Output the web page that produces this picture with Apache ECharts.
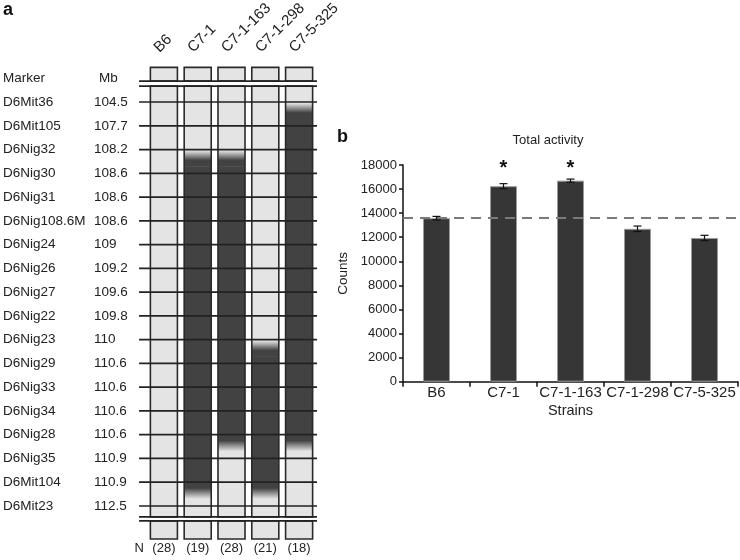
<!DOCTYPE html>
<html>
<head>
<meta charset="utf-8">
<script src="https://cdn.jsdelivr.net/npm/echarts@6/dist/echarts.min.js"></script>
<style>
  html, body { margin: 0; padding: 0; background: #fff; }
  #chart { width: 740px; height: 560px; }
</style>
</head>
<body>
<div id="chart"></div>
<script>
// ---------- Panel a data ----------
const strains = ['B6', 'C7-1', 'C7-1-163', 'C7-1-298', 'C7-5-325'];
const markers = ['D6Mit36', 'D6Mit105', 'D6Nig32', 'D6Nig30', 'D6Nig31', 'D6Nig108.6M', 'D6Nig24',
  'D6Nig26', 'D6Nig27', 'D6Nig22', 'D6Nig23', 'D6Nig29', 'D6Nig33', 'D6Nig34', 'D6Nig28',
  'D6Nig35', 'D6Mit104', 'D6Mit23'];
const markerMb = ['104.5', '107.7', '108.2', '108.6', '108.6', '108.6', '109', '109.2', '109.6',
  '109.8', '110', '110.6', '110.6', '110.6', '110.6', '110.9', '110.9', '112.5'];
// index of last B6-type marker before the donor segment, and last donor marker (null = no donor)
const lastB6Marker = [null, 2, 2, 10, 0];
const lastDonorMarker = [null, 16, 14, 16, 14];
const nMice = [28, 19, 28, 21, 18];

// ---------- Panel b data ----------
const activityMean = [13580, 16240, 16700, 12700, 11940];
const activitySem = [150, 210, 130, 230, 220];
const significant = [false, true, true, false, false];
const countTicks = [0, 18000, 2000]; // min, max, interval

const FONT = "'Liberation Sans', Arial, Helvetica, sans-serif";
const TXT = '#222';
const LIGHT = '#e4e4e4';
const DARK = '#424242';
const LINE = '#222';

// rendering constants (in marker-index units)
const COL_TOP = -0.67, COL_BOT = 17.46;
const DL_TOP = -0.88, DL_BOT = 17.63;
const BOX_TOP = -1.46, BOX_BOT = 18.39;

const chart = echarts.init(document.getElementById('chart'), null, { renderer: 'canvas' });

function renderColumn(params, api) {
  const idx = params.dataIndex;
  const i = api.value(0);
  const bw = api.size([1, 0])[0];
  const hw = bw * 0.4;
  const cx = api.coord([i, 0])[0];
  const Y = v => api.coord([i, v])[1];
  const x0 = cx - hw, w = 2 * hw;
  const ch = [];
  ch.push({ type: 'rect', shape: { x: x0, y: Y(COL_TOP), width: w, height: Y(COL_BOT) - Y(COL_TOP) },
    style: { fill: LIGHT } });
  const t = lastB6Marker[idx], b = lastDonorMarker[idx];
  if (t !== null && b !== null) {
    const g1 = t + 0.05, g2 = t + 0.72, g3 = b, g4 = b + 0.7;
    ch.push({ type: 'rect', shape: { x: x0, y: Y(g1), width: w, height: Y(g2) - Y(g1) },
      style: { fill: new echarts.graphic.LinearGradient(0, 0, 0, 1, [
        { offset: 0, color: LIGHT }, { offset: 0.6, color: DARK }, { offset: 1, color: DARK }]) } });
    ch.push({ type: 'rect', shape: { x: x0, y: Y(g2) - 0.5, width: w, height: Y(g3) - Y(g2) + 1 },
      style: { fill: DARK } });
    ch.push({ type: 'rect', shape: { x: x0, y: Y(g3), width: w, height: Y(g4) - Y(g3) },
      style: { fill: new echarts.graphic.LinearGradient(0, 0, 0, 1, [
        { offset: 0, color: DARK }, { offset: 0.35, color: DARK }, { offset: 1, color: LIGHT }]) } });
  }
  // column border
  ch.push({ type: 'rect', shape: { x: x0, y: Y(COL_TOP), width: w, height: Y(COL_BOT) - Y(COL_TOP) },
    style: { fill: null, stroke: '#2a2a2a', lineWidth: 1.6 } });
  // top box
  ch.push({ type: 'rect', shape: { x: x0, y: Y(BOX_TOP), width: w, height: Y(DL_TOP) - Y(BOX_TOP) },
    style: { fill: LIGHT, stroke: '#2a2a2a', lineWidth: 1.6 } });
  // bottom box
  ch.push({ type: 'rect', shape: { x: x0, y: Y(DL_BOT), width: w, height: Y(BOX_BOT) - Y(DL_BOT) },
    style: { fill: LIGHT, stroke: '#2a2a2a', lineWidth: 1.6 } });
  // rotated strain name above the box
  ch.push({ type: 'text', x: cx - 2, y: Y(BOX_TOP) - 12, rotation: Math.PI / 4,
    style: { text: strains[idx], align: 'left', verticalAlign: 'bottom',
      font: '15px ' + FONT, fill: TXT } });
  return { type: 'group', children: ch };
}

function renderMarkerLine(params, api) {
  const m = api.value(1);
  const bw = api.size([1, 0])[0];
  const xl = api.coord([0, 0])[0] - bw * 0.735;
  const xr = api.coord([strains.length - 1, 0])[0] + bw * 0.53;
  const ys = [m];
  if (params.dataIndex === 0) ys.push(DL_TOP, COL_TOP, COL_BOT, DL_BOT);
  return {
    type: 'group',
    children: ys.map(v => {
      const y = api.coord([0, v])[1];
      return { type: 'line', shape: { x1: xl, y1: y, x2: xr, y2: y },
        style: { stroke: LINE, lineWidth: 1.7 } };
    })
  };
}

function renderErr(params, api) {
  const i = api.value(0);
  const lo = api.coord([i, api.value(1)]);
  const hi = api.coord([i, api.value(2)]);
  const cap = 4;
  const ch = [
    { type: 'line', shape: { x1: hi[0], y1: hi[1], x2: lo[0], y2: lo[1] }, style: { stroke: '#111', lineWidth: 1.2 } },
    { type: 'line', shape: { x1: hi[0] - cap, y1: hi[1], x2: hi[0] + cap, y2: hi[1] }, style: { stroke: '#111', lineWidth: 1.2 } },
    { type: 'line', shape: { x1: lo[0] - cap, y1: lo[1], x2: lo[0] + cap, y2: lo[1] }, style: { stroke: '#111', lineWidth: 1.2 } }
  ];
  if (significant[params.dataIndex]) {
    const p = api.coord([i, countTicks[1]]);
    ch.push({ type: 'text', style: { text: '*', x: p[0], y: p[1] + 3, align: 'center', verticalAlign: 'middle',
      font: 'bold 20px ' + FONT, fill: '#111' } });
  }
  return { type: 'group', children: ch };
}

const option = {
  animation: false,
  backgroundColor: '#fff',
  textStyle: { fontFamily: FONT, color: TXT },
  graphic: [
    { type: 'text', style: { text: 'a', x: 3, y: 1, font: 'bold 18px ' + FONT, fill: '#111' } },
    { type: 'text', style: { text: 'b', x: 337, y: 128, font: 'bold 18px ' + FONT, fill: '#111' } },
    { type: 'text', style: { text: 'Total activity', x: 548, y: 140, align: 'center', verticalAlign: 'middle',
      font: '13px ' + FONT, fill: TXT } }
  ],
  grid: [
    { left: 146, top: 54.5, width: 170, height: 499 },
    { left: 403, top: 165, width: 335, height: 216.7 }
  ],
  xAxis: [
    { gridIndex: 0, type: 'category', data: strains, position: 'top',
      axisLine: { show: false }, axisTick: { show: false }, splitLine: { show: false },
      axisLabel: { show: false } },
    { gridIndex: 0, type: 'category', data: strains, position: 'bottom', offset: -11.5,
      axisLine: { show: false }, axisTick: { show: false },
      axisLabel: { margin: 0, fontSize: 13, color: TXT, fontFamily: FONT, interval: 0,
        formatter: (v, i) => '(' + nMice[i] + ')' },
      name: 'N', nameLocation: 'start', nameGap: 3,
      nameTextStyle: { fontSize: 13, color: TXT, fontFamily: FONT, verticalAlign: 'top' } },
    { gridIndex: 1, type: 'category', data: strains,
      axisLine: { lineStyle: { color: '#111', width: 1.5 } },
      axisTick: { show: true, length: 5, lineStyle: { color: '#111', width: 1.5 } },
      axisLabel: { margin: 4, fontSize: 15, color: TXT, fontFamily: FONT, interval: 0 },
      name: 'Strains', nameLocation: 'middle', nameGap: 22,
      nameTextStyle: { fontSize: 14.5, color: TXT, fontFamily: FONT } }
  ],
  yAxis: [
    { gridIndex: 0, type: 'value', inverse: true, min: -2, max: 19, interval: 1,
      axisLine: { show: false }, axisTick: { show: false }, splitLine: { show: false },
      axisLabel: { align: 'left', margin: 144, fontSize: 13.5, color: TXT, fontFamily: FONT,
        formatter: v => {
          if (v === -1) return '{h|Marker}{hv|Mb}';
          if (v >= 0 && v < markers.length && Number.isInteger(v)) return '{m|' + markers[v] + '}{v|' + markerMb[v] + '}';
          return '';
        },
        rich: {
          h: { width: 96, fontSize: 13.5, fontFamily: FONT, color: TXT },
          hv: { fontSize: 13.5, fontFamily: FONT, color: TXT },
          m: { width: 91, fontSize: 13.5, fontFamily: FONT, color: TXT },
          v: { fontSize: 13.5, fontFamily: FONT, color: TXT }
        } } },
    { gridIndex: 1, type: 'value', min: countTicks[0], max: countTicks[1], interval: countTicks[2],
      axisLine: { show: true, lineStyle: { color: '#111', width: 1.5 } },
      axisTick: { show: true, length: 4, lineStyle: { color: '#111', width: 1.5 } },
      splitLine: { show: false },
      axisLabel: { margin: 6, fontSize: 13, color: TXT, fontFamily: FONT, formatter: v => String(v) },
      name: 'Counts', nameLocation: 'middle', nameGap: 53, nameRotate: 90,
      nameTextStyle: { fontSize: 13.5, color: TXT, fontFamily: FONT } }
  ],
  series: [
    { type: 'custom', xAxisIndex: 0, yAxisIndex: 0, clip: false, z: 2,
      renderItem: renderColumn,
      data: strains.map((s, i) => [i, lastB6Marker[i] === null ? 0 : lastB6Marker[i], lastDonorMarker[i] === null ? 0 : lastDonorMarker[i]]) },
    { type: 'custom', xAxisIndex: 0, yAxisIndex: 0, clip: false, z: 3,
      renderItem: renderMarkerLine,
      data: markers.map((m, i) => [0, i]) },
    { type: 'bar', xAxisIndex: 2, yAxisIndex: 1, barWidth: 27,
      itemStyle: { color: '#363636', borderColor: '#9a9a9a', borderWidth: 1 },
      data: activityMean,
      markLine: { silent: true, symbol: 'none', label: { show: false },
        lineStyle: { color: '#7a7a7a', width: 2, type: [10, 7] },
        data: [{ yAxis: activityMean[0] }] } },
    { type: 'custom', xAxisIndex: 2, yAxisIndex: 1, clip: false, z: 5,
      renderItem: renderErr,
      data: strains.map((s, i) => [i, activityMean[i] - activitySem[i], activityMean[i] + activitySem[i]]) }
  ]
};
chart.setOption(option);
</script>
</body>
</html>
